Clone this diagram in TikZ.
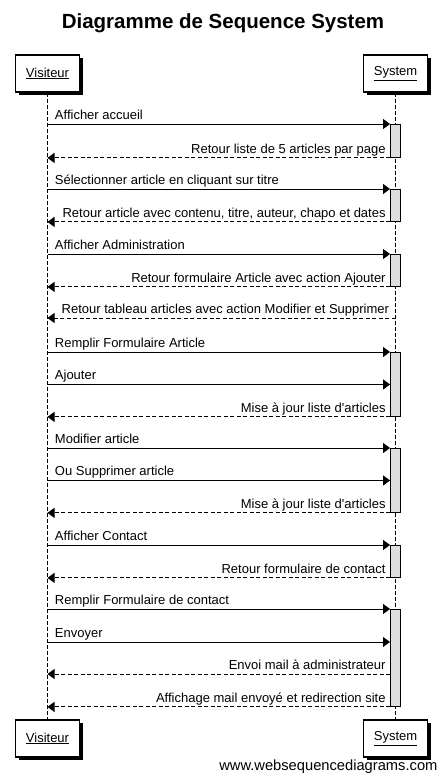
\documentclass[tikz,border=0pt]{standalone}
\usepackage{fontspec}
\setmainfont{Liberation Sans}
\usepackage{tikz}
\usetikzlibrary{arrows.meta, shadows}

\definecolor{actgrey}{RGB}{222,222,222}

\tikzset{
	actor/.style={rectangle, draw, line width=1.2pt, fill=white, minimum width=64pt, minimum height=37pt, inner sep=0pt,
		drop shadow={shadow xshift=3pt, shadow yshift=-3pt, fill=black, opacity=1}},
	act/.style={rectangle, draw, line width=0.9pt, fill=actgrey, minimum width=10pt, inner sep=0pt, anchor=north},
	lifeline/.style={line width=0.9pt, dash pattern=on 4pt off 2pt},
	call/.style={line width=0.9pt, -{Triangle[length=7pt, width=10pt]}},
	ret/.style={call, dash pattern=on 4pt off 2.5pt},
	lbl/.style={inner sep=0pt, yshift=4.5pt},
}

\begin{document}
\begin{tikzpicture}[x=1pt, y=-1pt, font=\fontsize{13}{15}\selectfont]
		\useasboundingbox (0,0) rectangle (442,782);
		\node[font=\fontsize{20.5}{24}\selectfont\bfseries] (title) at (223,23) {Diagramme de Sequence System};
		% participants
		\node[actor] (vis) at (47.5,73.5) {\underline{Visiteur}};
		\node[actor] (sys) at (395.5,73.5) {\underline{System}};
		\node[actor] (visb) at (47.5,738.5) {\underline{Visiteur}};
		\node[actor] (sysb) at (395.5,738.5) {\underline{System}};
		\draw[lifeline] (vis) -- (visb);
		\draw[lifeline] (sys) -- (sysb);
		% activations
		\node[act, minimum height=33pt] (a1) at (395.5,124) {};
		\node[act, minimum height=32pt] (a2) at (395.5,189) {};
		\node[act, minimum height=32pt] (a3) at (395.5,254) {};
		\node[act, minimum height=64pt] (a4) at (395.5,352) {};
		\node[act, minimum height=64pt] (a5) at (395.5,448) {};
		\node[act, minimum height=32pt] (a6) at (395.5,545) {};
		\node[act, minimum height=97pt] (a7) at (395.5,609) {};
		\coordinate (tab) at (395.5,318);
		\coordinate (env) at (390,642);
		\coordinate (mail) at (390,674);
		% messages
		\draw[call] (vis |- a1.north) -- (a1.north west) node[lbl, pos=0, anchor=base west, xshift=7pt] {Afficher accueil};
		\draw[ret] (a1.south west) -- (vis |- a1.south) node[lbl, pos=0, anchor=base east, xshift=-4pt] {Retour liste de 5 articles par page};
		\draw[call] (vis |- a2.north) -- (a2.north west) node[lbl, pos=0, anchor=base west, xshift=7pt] {Sélectionner article en cliquant sur titre};
		\draw[ret] (a2.south west) -- (vis |- a2.south) node[lbl, pos=0, anchor=base east, xshift=-4pt] {Retour article avec contenu, titre, auteur, chapo et dates};
		\draw[call] (vis |- a3.north) -- (a3.north west) node[lbl, pos=0, anchor=base west, xshift=7pt] {Afficher Administration};
		\draw[ret] (a3.south west) -- (vis |- a3.south) node[lbl, pos=0, anchor=base east, xshift=-4pt] {Retour formulaire Article avec action Ajouter};
		\draw[ret] (tab) -- (vis |- tab) node[lbl, pos=0, anchor=base east, xshift=-6pt] {Retour tableau articles avec action Modifier et Supprimer};
		\draw[call] (vis |- a4.north) -- (a4.north west) node[lbl, pos=0, anchor=base west, xshift=7pt] {Remplir Formulaire Article};
		\draw[call] (vis |- a4.west) -- (a4.west) node[lbl, pos=0, anchor=base west, xshift=7pt] {Ajouter};
		\draw[ret] (a4.south west) -- (vis |- a4.south) node[lbl, pos=0, anchor=base east, xshift=-4pt] {Mise à jour liste d\textquotesingle articles};
		\draw[call] (vis |- a5.north) -- (a5.north west) node[lbl, pos=0, anchor=base west, xshift=7pt] {Modifier article};
		\draw[call] (vis |- a5.west) -- (a5.west) node[lbl, pos=0, anchor=base west, xshift=7pt] {Ou Supprimer article};
		\draw[ret] (a5.south west) -- (vis |- a5.south) node[lbl, pos=0, anchor=base east, xshift=-4pt] {Mise à jour liste d\textquotesingle articles};
		\draw[call] (vis |- a6.north) -- (a6.north west) node[lbl, pos=0, anchor=base west, xshift=7pt] {Afficher Contact};
		\draw[ret] (a6.south west) -- (vis |- a6.south) node[lbl, pos=0, anchor=base east, xshift=-4pt] {Retour formulaire de contact};
		\draw[call] (vis |- a7.north) -- (a7.north west) node[lbl, pos=0, anchor=base west, xshift=7pt] {Remplir Formulaire de contact};
		\draw[call] (vis |- env) -- (env) node[lbl, pos=0, anchor=base west, xshift=7pt] {Envoyer};
		\draw[ret] (mail) -- (vis |- mail) node[lbl, pos=0, anchor=base east, xshift=-4pt] {Envoi mail à administrateur};
		\draw[ret] (a7.south west) -- (vis |- a7.south) node[lbl, pos=0, anchor=base east, xshift=-4pt] {Affichage mail envoyé et redirection site};
		\node[anchor=base east, font=\fontsize{14.7}{17}\selectfont] (wsd) at (441,770) {www.websequencediagrams.com};
	\end{tikzpicture}
\end{document}
